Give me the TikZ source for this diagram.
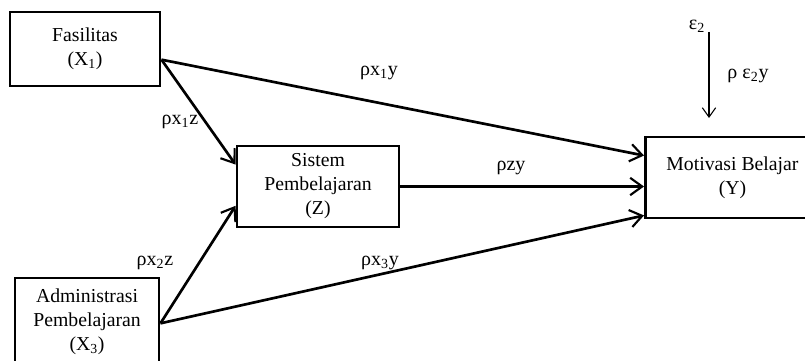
\documentclass[tikz,border=0pt]{standalone}
\usepackage{fontspec}
\setmainfont{Liberation Serif}
\usetikzlibrary{arrows.meta}
\begin{document}
\begin{tikzpicture}[x=0.75pt,y=-0.75pt,
  box/.style={draw,line width=2.2pt,align=center,font=\fontsize{14.8}{18}\selectfont,inner sep=0pt},
  ybox/.style={draw,line width=2.2pt,font=\fontsize{14.8}{18}\selectfont,inner sep=0pt},
  lbl/.style={font=\fontsize{15}{18}\selectfont,inner sep=0pt},
  path/.style={line width=2pt,-{Straight Barb[length=9pt,width=13pt,line width=1.6pt]}},
  thin/.style={line width=0.8pt,-{Straight Barb[length=7pt,width=10pt,line width=0.8pt]}}]
\useasboundingbox (0,0) rectangle (805,360);
\clip (0,0) rectangle (805,360);
\fill[white] (0,0) rectangle (805,360);
\node[box,minimum width=112.5pt,minimum height=55.5pt] (X1) at (85,49) {Fasilitas\\(X\textsubscript{1})};
\node[box,minimum width=108pt,minimum height=66pt] (X3) at (87,322) {Administrasi\\Pembelajaran\\(X\textsubscript{3})};
\node[box,minimum width=121.5pt,minimum height=60.75pt] (Z) at (318,186.5) {Sistem\\Pembelajaran\\(Z)};
\node[ybox,anchor=west,minimum height=60.75pt] (Y) at (644,177.5)
  {\raisebox{3.5pt}{\parbox[c]{130.5pt}{\centering Motivasi Belajar\\(Y)\par}}\hspace{60pt}};
\coordinate (e2) at (709,32);
\coordinate (e2end) at (709,118);
\node[lbl] (e2l) at (697,26) {ε\textsubscript{2}};
\coordinate (X1o) at ([yshift=-8pt]X1.east);
\coordinate (X3o) at ([yshift=-1pt]X3.east);
\draw[path] (X1o) -- ([yshift=-15pt]Y.north west);
\draw[path] (X1o) -- ([yshift=-15pt]Z.north west);
\draw[path] (X3o) -- ([yshift=17pt]Z.south west);
\draw[path] (X3o) -- ([yshift=3pt]Y.south west);
\draw[path] (Z.east) -- (Z.east -| Y.west);
\draw[thin] (e2) -- (e2end);
\node[lbl] at (379,73) {ρx\textsubscript{1}y};
\node[lbl] at (180,122) {ρx\textsubscript{1}z};
\node[lbl] at (511,168) {ρzy};
\node[lbl] at (155,263) {ρx\textsubscript{2}z};
\node[lbl] at (380,263) {ρx\textsubscript{3}y};
\node[lbl] at (748,76) {ρ ε\textsubscript{2}y};
\end{tikzpicture}
\end{document}
